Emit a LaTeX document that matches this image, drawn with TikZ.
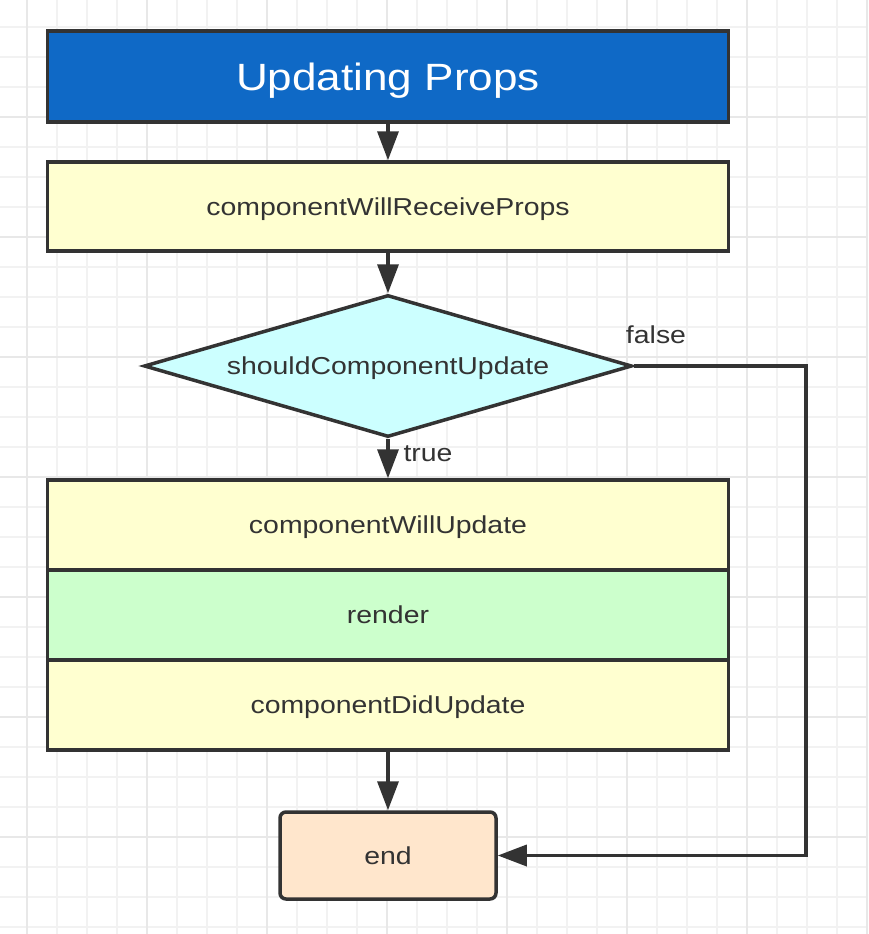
\documentclass[tikz,border=0pt]{standalone}
\usepackage{fontspec}
\setmainfont{Liberation Sans}[FakeStretch=1.16]
\usepackage{tikz}
\usetikzlibrary{shapes.geometric,arrows.meta,positioning}
\definecolor{linegray}{HTML}{333333}
\definecolor{gridfine}{HTML}{F2F2F2}
\definecolor{gridbold}{HTML}{E8E8E8}
\definecolor{titleblue}{HTML}{0F69C6}
\definecolor{lifeyellow}{HTML}{FFFFD0}
\definecolor{checkcyan}{HTML}{CCFFFF}
\definecolor{rendergreen}{HTML}{CCFFCC}
\definecolor{endorange}{HTML}{FFE6CC}
\begin{document}
\begin{tikzpicture}[x=1pt,y=-1pt,
  box/.style={draw=linegray,line width=3.5pt,rectangle,minimum width=681pt,minimum height=90pt,
    inner sep=0pt,text depth=0pt,text=linegray,font=\fontsize{24.5}{29}\selectfont},
  arr/.style={draw=linegray,line width=3.5pt,-{Triangle[length=29pt,width=21pt]}},
  lbl/.style={text=linegray,inner sep=0pt,font=\fontsize{24.5}{29}\selectfont}]
\useasboundingbox (0,0) rectangle (868,934);
% grid background
\foreach \x in {27,57,...,867} \draw[gridfine,line width=2pt] (\x,0) -- (\x,934);
\foreach \y in {27,57,...,927} \draw[gridfine,line width=2pt] (0,\y) -- (868,\y);
\foreach \x in {27,147,...,867} \draw[gridbold,line width=2pt] (\x,0) -- (\x,934);
\foreach \y in {117,237,...,837} \draw[gridbold,line width=2pt] (0,\y) -- (868,\y);
% boxes
\node[box,fill=titleblue,minimum height=91pt,text=white,font=\fontsize{38}{46}\selectfont] (title) at (388,76.5) {Updating Props};
\node[box,fill=lifeyellow,minimum height=89pt] (receive) at (388,206.5) {componentWillReceiveProps};
\node[box,diamond,aspect=3.44,fill=checkcyan,minimum width=488pt,minimum height=142pt] (check) at (388,366) {shouldComponentUpdate};
\node[box,fill=lifeyellow] (willupdate) at (388,525) {componentWillUpdate};
\node[box,fill=rendergreen] (render) at (388,615) {render};
\node[box,fill=lifeyellow] (didupdate) at (388,705) {componentDidUpdate};
\node[box,fill=endorange,rounded corners=6pt,minimum width=216pt,minimum height=87pt] (end) at (388,855.5) {end};
% connectors
\draw[arr] (title) -- (receive);
\draw[arr] (receive) -- (check);
\draw[arr] (check) -- (willupdate);
\draw[arr] (didupdate) -- (end);
\coordinate (turn) at (806,366);
\draw[arr] (check.east) -- (turn) |- (end.east);
% labels
\node[lbl] (falselbl) at (656,335) {false};
\node[lbl] (truelbl) at (428,454) {true};
\end{tikzpicture}
\end{document}
